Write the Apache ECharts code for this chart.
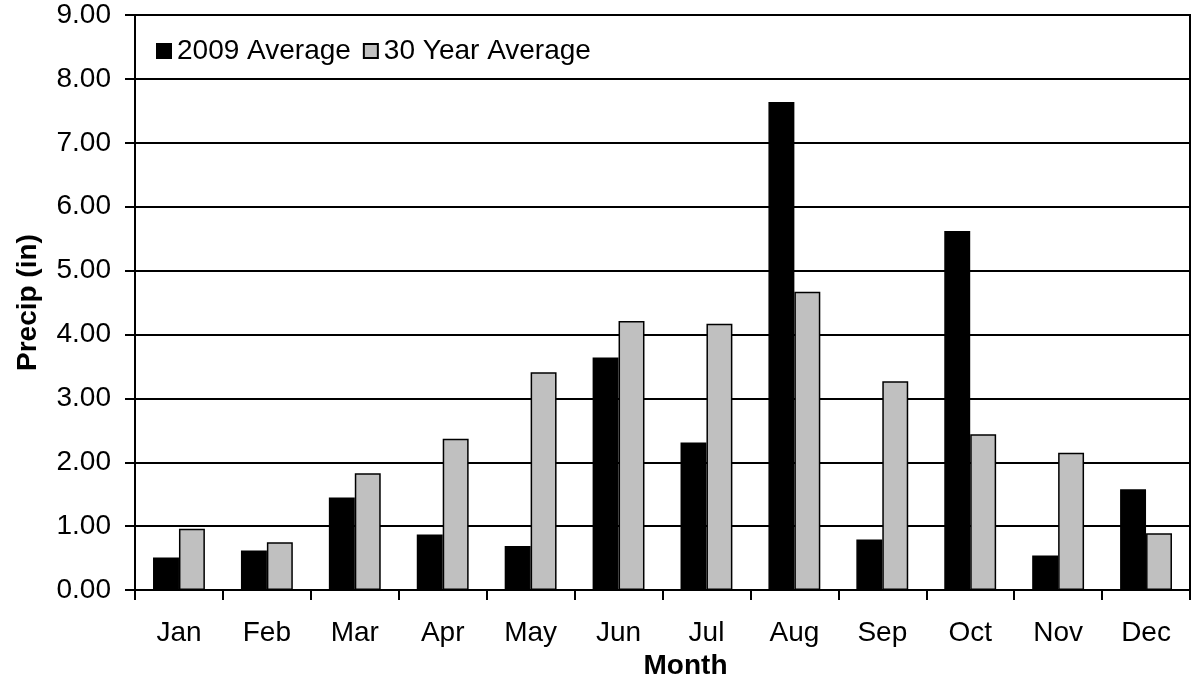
<!DOCTYPE html>
<html>
<head>
<meta charset="utf-8">
<script src="https://cdn.jsdelivr.net/npm/echarts@6/dist/echarts.min.js"></script>
<style>
  html, body { margin: 0; padding: 0; background: #fff; }
  #chart { width: 1193px; height: 685px; }
</style>
</head>
<body>
<div id="chart"></div>
<script>
// Monthly precipitation, inches
const months = ['Jan', 'Feb', 'Mar', 'Apr', 'May', 'Jun', 'Jul', 'Aug', 'Sep', 'Oct', 'Nov', 'Dec'];
const avg2009 = [0.51, 0.62, 1.45, 0.87, 0.69, 3.64, 2.31, 7.64, 0.79, 5.62, 0.54, 1.58];
const avg30yr = [0.96, 0.75, 1.83, 2.37, 3.41, 4.21, 4.17, 4.67, 3.27, 2.44, 2.15, 0.89];
const seriesNames = ['2009 Average', '30 Year Average'];

const FONT = "'Liberation Sans', Arial, sans-serif";
const chart = echarts.init(document.getElementById('chart'));

chart.setOption({
  animation: false,
  backgroundColor: '#fff',
  textStyle: { fontFamily: FONT, color: '#000' },
  grid: {
    left: 135, right: 3, top: 15, bottom: 91,
    show: true, borderColor: '#000', borderWidth: 2
  },
  legend: {
    left: 151, top: 32,
    itemWidth: 14, itemHeight: 14, itemGap: 12,
    icon: 'rect',
    textStyle: { fontFamily: FONT, fontSize: 28, color: '#000', padding: [0, 0, 0, 1] },
    data: seriesNames
  },
  xAxis: {
    type: 'category',
    data: months,
    name: 'Month',
    nameLocation: 'middle',
    nameGap: 57,
    nameTextStyle: { fontFamily: FONT, fontSize: 28, fontWeight: 'bold', color: '#000', padding: [0, 0, 0, 46] },
    axisLine: { lineStyle: { color: '#000', width: 2 } },
    axisTick: { show: true, length: 10, lineStyle: { color: '#000', width: 2 } },
    axisLabel: { fontFamily: FONT, fontSize: 28, color: '#000', margin: 29 }
  },
  yAxis: {
    type: 'value',
    min: 0, max: 9, interval: 1,
    name: 'Precip (in)',
    nameLocation: 'middle',
    nameGap: 93,
    nameRotate: 90,
    nameTextStyle: { fontFamily: FONT, fontSize: 28, fontWeight: 'bold', color: '#000' },
    axisLine: { show: true, lineStyle: { color: '#000', width: 2 } },
    axisTick: { show: true, length: 10, lineStyle: { color: '#000', width: 2 } },
    axisLabel: {
      fontFamily: FONT, fontSize: 28, color: '#000', margin: 24,
      formatter: v => v.toFixed(2)
    },
    splitLine: { show: true, lineStyle: { color: '#000', width: 2 } }
  },
  series: [
    {
      name: seriesNames[0],
      type: 'bar',
      data: avg2009,
      barGap: '0%',
      barCategoryGap: '41%',
      itemStyle: { color: '#000', borderColor: '#000', borderWidth: 1.5 }
    },
    {
      name: seriesNames[1],
      type: 'bar',
      data: avg30yr,
      barGap: '0%',
      barCategoryGap: '41%',
      itemStyle: { color: '#c0c0c0', borderColor: '#000', borderWidth: 1.5 }
    }
  ]
});
</script>
</body>
</html>
